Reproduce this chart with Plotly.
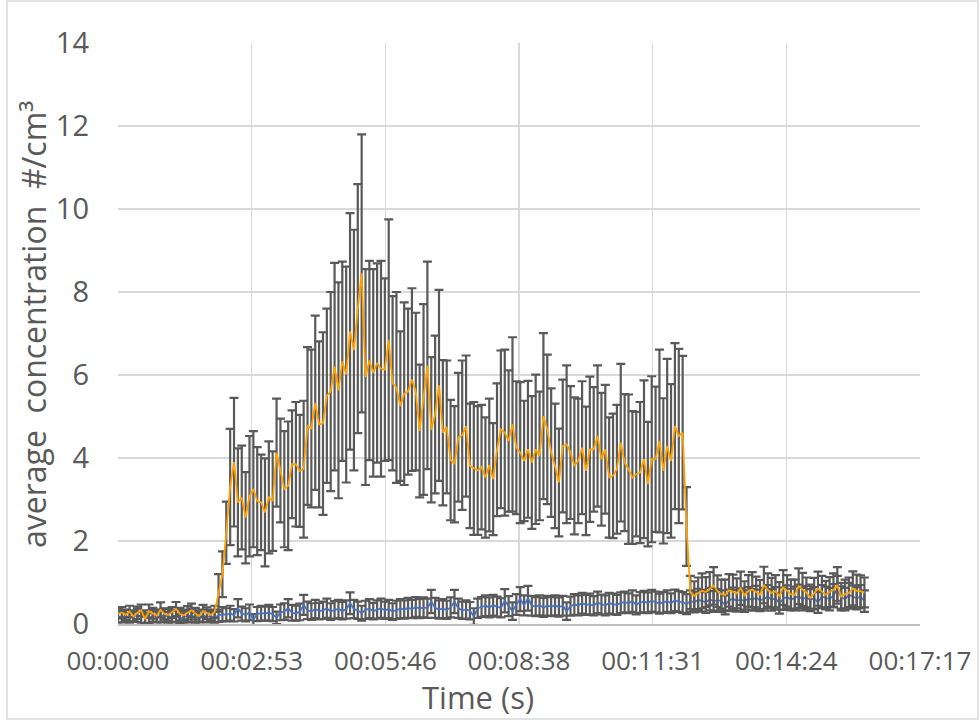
import plotly.graph_objects as go

# sampling times in seconds (every 5 s)
TIME_S = list(range(0, 970, 5))

X_TICK_VALS = [0, 172.8, 345.6, 518.4, 691.2, 864.0, 1036.8]
X_TICK_TEXT = ["00:00:00", "00:02:53", "00:05:46", "00:08:38", "00:11:31", "00:14:24", "00:17:17"]
Y_TICK_VALS = [0, 2, 4, 6, 8, 10, 12, 14]

ORANGE_MEAN = [
    0.25, 0.28, 0.22, 0.30, 0.18, 0.27, 0.33, 0.12, 0.31, 0.26,
    0.20, 0.34, 0.24, 0.22, 0.28, 0.36, 0.24, 0.21, 0.27, 0.33,
    0.25, 0.19, 0.31, 0.26, 0.22, 0.29,
    0.75, 1.2, 2.2, 3.3, 3.9, 2.93, 3.05, 2.56, 3.08, 3.25,
    2.96, 2.93, 2.69, 3.05, 2.96, 4.13, 3.7, 3.25, 3.33, 3.85,
    3.85, 3.69, 3.73, 4.77, 4.71, 5.33, 4.81, 4.83, 5.5, 5.6,
    6.2, 5.63, 6.33, 6.01, 7.05, 6.6, 7.6, 8.45, 5.95, 6.35,
    6.05, 6.29, 6.15, 6.13, 6.85, 5.8, 5.7, 5.25, 5.55, 5.6,
    5.89, 5.6, 4.65, 5.41, 6.23, 4.68, 5.05, 5.75, 4.61, 4.75,
    3.95, 3.85, 4.5, 4.55, 4.77, 3.81, 3.75, 3.7, 3.78, 3.53,
    3.83, 3.49, 4.2, 4.69, 4.61, 4.41, 4.81, 4.25, 4.13, 3.93,
    4.21, 3.89, 4.21, 4.05, 5.01, 4.69, 4.13, 3.81, 3.41, 4.29,
    4.33, 4.13, 3.81, 3.93, 4.25, 3.69, 4.21, 4.21, 4.53, 3.97,
    4.21, 3.53, 3.57, 3.73, 4.37, 3.89, 3.73, 3.53, 3.61, 3.65,
    3.97, 3.37, 3.97, 3.97, 4.41, 3.69, 4.29, 3.93, 4.77, 4.53,
    4.61, 2.35,
    0.76, 0.68, 0.74, 0.80, 0.77, 0.85, 0.92, 0.79, 0.72, 0.70,
    0.81, 0.78, 0.74, 0.86, 0.69, 0.80, 0.83, 0.77, 0.71, 0.94,
    0.82, 0.75, 0.79, 0.68, 0.88, 0.80, 0.72, 0.70, 0.91, 0.83,
    0.76, 0.63, 0.74, 0.85, 0.78, 0.70, 0.77, 0.82, 0.93, 0.66,
    0.72, 0.75, 0.86, 0.80, 0.79, 0.76,
]

ORANGE_ERR = [
    0.12, 0.13, 0.12, 0.14, 0.11, 0.15, 0.14, 0.12, 0.16, 0.13,
    0.15, 0.18, 0.13, 0.14, 0.13, 0.17, 0.15, 0.13, 0.16, 0.16,
    0.14, 0.13, 0.15, 0.14, 0.13, 0.15,
    0.45, 0.55, 0.75, 1.4, 1.55, 1.3, 1.25, 1.1, 1.45, 1.4,
    1.3, 1.15, 1.3, 1.35, 1.2, 1.3, 1.25, 1.4, 1.55, 1.3,
    1.5, 1.35, 1.65, 1.9, 1.9, 2.1, 2.0, 2.2, 2.1, 2.4,
    2.5, 2.6, 2.4, 2.6, 2.85, 2.9, 3.0, 3.35, 2.6, 2.4,
    2.5, 2.4, 2.6, 2.2, 2.9, 2.1, 2.3, 1.8, 2.2, 2.0,
    2.2, 1.9, 1.6, 2.3, 2.5, 1.75, 1.9, 2.3, 1.75, 1.6,
    1.45, 1.4, 1.55, 1.8, 1.7, 1.5, 1.6, 1.55, 1.5, 1.45,
    1.6, 1.35, 1.6, 1.9, 2.0, 1.7, 2.1, 1.6, 1.7, 1.45,
    1.65, 1.6, 1.8, 1.55, 2.0, 1.8, 1.55, 1.5, 1.3, 1.6,
    1.9, 1.6, 1.65, 1.5, 1.6, 1.55, 1.75, 1.5, 1.7, 1.6,
    1.55, 1.45, 1.5, 1.55, 1.9, 1.65, 1.8, 1.6, 1.5, 1.7,
    1.9, 1.5, 2.0, 1.75, 2.2, 1.75, 2.1, 1.85, 2.0, 2.1,
    1.85, 0.95,
    0.40, 0.35, 0.38, 0.42, 0.36, 0.40, 0.45, 0.38, 0.35, 0.37,
    0.39, 0.41, 0.36, 0.40, 0.34, 0.38, 0.42, 0.37, 0.35, 0.44,
    0.40, 0.36, 0.39, 0.33, 0.42, 0.38, 0.35, 0.37, 0.43, 0.40,
    0.36, 0.32, 0.37, 0.41, 0.38, 0.34, 0.36, 0.40, 0.44, 0.33,
    0.35, 0.37, 0.41, 0.39, 0.38, 0.36,
]

BLUE_MEAN = [
    0.18, 0.17, 0.20, 0.15, 0.19, 0.21, 0.16, 0.18, 0.14, 0.20,
    0.17, 0.19, 0.22, 0.16, 0.18, 0.20, 0.12, 0.17, 0.19, 0.21,
    0.15, 0.18, 0.20, 0.17, 0.19, 0.16,
    0.20, 0.24, 0.22, 0.26, 0.21, 0.38, 0.25, 0.22, 0.28, 0.10,
    0.24, 0.26, 0.25, 0.27, 0.24, 0.15, 0.28, 0.30, 0.38, 0.27,
    0.26, 0.29, 0.46, 0.33, 0.30, 0.36, 0.31, 0.33, 0.38, 0.30,
    0.34, 0.36, 0.32, 0.35, 0.50,
    0.36, 0.33, 0.26, 0.34, 0.37, 0.31, 0.35, 0.38, 0.33, 0.36,
    0.30, 0.34, 0.37, 0.35, 0.39, 0.36, 0.41, 0.37, 0.40, 0.38,
    0.54, 0.39, 0.35, 0.37, 0.34, 0.40, 0.54, 0.38, 0.33, 0.35,
    0.32, 0.18, 0.38, 0.41, 0.44, 0.40, 0.45, 0.42, 0.39, 0.56,
    0.43, 0.31, 0.47, 0.60, 0.45, 0.62, 0.44, 0.42, 0.45, 0.40,
    0.44, 0.42, 0.45, 0.41, 0.44, 0.31, 0.43, 0.47, 0.45, 0.50,
    0.46, 0.48, 0.44, 0.52, 0.47, 0.45, 0.50, 0.48, 0.46, 0.51,
    0.53, 0.50, 0.55, 0.46, 0.52, 0.54, 0.51, 0.56, 0.53, 0.49,
    0.52, 0.55, 0.50, 0.57, 0.54, 0.52, 0.48, 0.55, 0.53, 0.58,
    0.56, 0.52, 0.60, 0.54, 0.58, 0.55, 0.46, 0.57, 0.61, 0.56,
    0.59, 0.55, 0.62, 0.58, 0.64, 0.57, 0.60, 0.66, 0.58, 0.62,
    0.50, 0.61, 0.65, 0.59, 0.63, 0.67, 0.60, 0.64, 0.58, 0.62,
    0.52, 0.66, 0.63, 0.60, 0.68, 0.86, 0.64, 0.60, 0.70, 0.65,
    0.62, 0.66, 0.55,
]

BLUE_ERR = [
    0.14, 0.13, 0.15, 0.12, 0.14, 0.16, 0.13, 0.15, 0.12, 0.14,
    0.13, 0.15, 0.16, 0.13, 0.14, 0.15, 0.12, 0.13, 0.15, 0.16,
    0.12, 0.14, 0.15, 0.13, 0.14, 0.13,
    0.15, 0.17, 0.16, 0.18, 0.15, 0.22, 0.17, 0.16, 0.19, 0.14,
    0.17, 0.18, 0.17, 0.19, 0.17, 0.15, 0.19, 0.20, 0.22, 0.19,
    0.18, 0.20, 0.24, 0.21, 0.20, 0.22, 0.20, 0.21, 0.23, 0.20,
    0.21, 0.22, 0.21, 0.22, 0.26,
    0.22, 0.21, 0.18, 0.22, 0.23, 0.20, 0.22, 0.23, 0.21, 0.22,
    0.20, 0.22, 0.23, 0.22, 0.24, 0.22, 0.24, 0.23, 0.24, 0.23,
    0.28, 0.24, 0.22, 0.23, 0.22, 0.24, 0.28, 0.23, 0.21, 0.22,
    0.21, 0.20, 0.23, 0.24, 0.25, 0.24, 0.25, 0.24, 0.23, 0.28,
    0.24, 0.21, 0.25, 0.29, 0.24, 0.30, 0.24, 0.23, 0.24, 0.23,
    0.24, 0.23, 0.24, 0.23, 0.24, 0.21, 0.23, 0.25, 0.24, 0.25,
    0.24, 0.25, 0.23, 0.26, 0.24, 0.24, 0.25, 0.25, 0.24, 0.25,
    0.25, 0.24, 0.26, 0.23, 0.25, 0.26, 0.25, 0.26, 0.25, 0.24,
    0.25, 0.26, 0.24, 0.26, 0.25, 0.25, 0.24, 0.26, 0.25, 0.27,
    0.26, 0.25, 0.27, 0.25, 0.26, 0.26, 0.23, 0.26, 0.27, 0.26,
    0.27, 0.26, 0.27, 0.26, 0.28, 0.26, 0.27, 0.28, 0.26, 0.27,
    0.25, 0.27, 0.28, 0.26, 0.27, 0.28, 0.27, 0.28, 0.26, 0.27,
    0.25, 0.28, 0.27, 0.27, 0.28, 0.30, 0.27, 0.27, 0.29, 0.28,
    0.27, 0.28, 0.26,
]

for arr in (ORANGE_MEAN, ORANGE_ERR, BLUE_MEAN, BLUE_ERR):
    assert len(arr) == len(TIME_S), len(arr)

FONT = "Open Sans, Noto Sans, sans-serif"
TXT = "#595959"
GRID = "#D9D9D9"
ERRC = "#595959"

fig = go.Figure()
fig.add_trace(go.Scatter(
    x=TIME_S, y=BLUE_MEAN, mode="lines",
    line=dict(color="#4472C4", width=1.8),
    error_y=dict(type="data", array=BLUE_ERR, visible=True,
                 color=ERRC, thickness=2.2, width=4.5),
    showlegend=False, hoverinfo="skip",
))
fig.add_trace(go.Scatter(
    x=TIME_S, y=ORANGE_MEAN, mode="lines",
    line=dict(color="#FFA000", width=1.8),
    error_y=dict(type="data", array=ORANGE_ERR, visible=True,
                 color=ERRC, thickness=2.2, width=4.5),
    showlegend=False, hoverinfo="skip",
))

L, R, T, B = 118, 60, 43, 96
W, H = 980, 720
pw, ph = W - L - R, H - T - B

def px_x(p):
    return (p - L) / pw

def px_y(p):
    return (H - B - p) / ph

fig.update_layout(
    width=W, height=H,
    margin=dict(l=L, r=R, t=T, b=B, autoexpand=False),
    paper_bgcolor="white", plot_bgcolor="white",
    font=dict(family=FONT, color=TXT, size=26),
    xaxis=dict(
        range=[0, 1036.85], tickmode="array",
        tickvals=X_TICK_VALS, ticktext=X_TICK_TEXT, automargin=False,
        showgrid=True, gridcolor=GRID, gridwidth=1.5,
        zeroline=False, showline=True, linecolor="#BFBFBF", linewidth=1.5,
        ticks="", ticklabelstandoff=13,
        tickfont=dict(size=26, color=TXT, family=FONT),
    ),
    yaxis=dict(
        range=[0, 14], tickmode="array", tickvals=Y_TICK_VALS, automargin=False,
        showgrid=True, gridcolor=GRID, gridwidth=1.5,
        zeroline=False, showline=False, ticks="", ticklabelstandoff=28,
        tickfont=dict(size=29, color=TXT, family=FONT),
    ),
    shapes=[dict(
        type="rect", xref="paper", yref="paper",
        x0=px_x(7), x1=px_x(978), y0=px_y(719), y1=px_y(1),
        line=dict(color=GRID, width=1.5), fillcolor="rgba(0,0,0,0)", layer="below",
    )],
    annotations=[
        dict(text="Time (s)", xref="paper", yref="paper",
             x=px_x(478), y=px_y(697), showarrow=False,
             xanchor="center", yanchor="middle",
             font=dict(size=31, color=TXT, family=FONT)),
        dict(text="average\u00a0\u00a0concentration\u00a0\u00a0#/cm³",
             xref="paper", yref="paper",
             x=px_x(34), y=px_y(325), showarrow=False, textangle=-90,
             xanchor="center", yanchor="middle",
             font=dict(size=32, color=TXT, family=FONT)),
    ],
)

fig.write_html(
    "out.html",
    config={"displayModeBar": False, "staticPlot": True},
    post_script="document.body.style.margin='0';document.body.style.overflow='hidden';",
)
